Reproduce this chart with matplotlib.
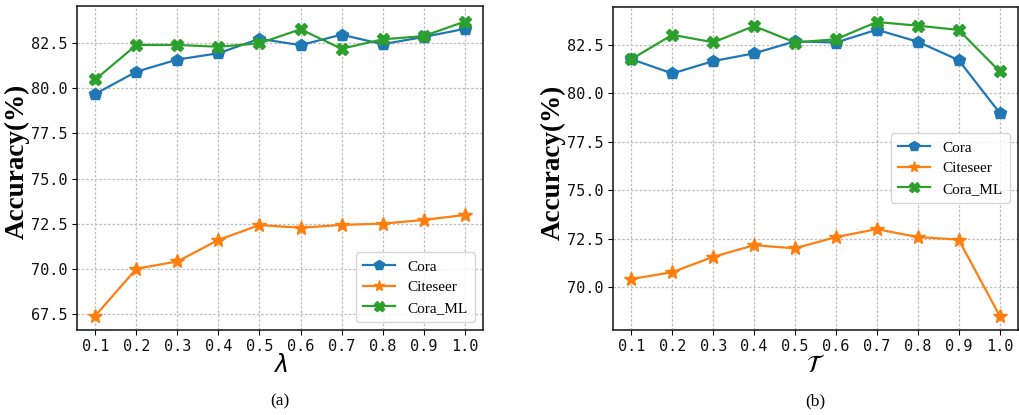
import matplotlib
matplotlib.use('Agg')
import matplotlib.pyplot as plt

# x values shared by both panels
ticks = ['0.1', '0.2', '0.3', '0.4', '0.5', '0.6', '0.7', '0.8', '0.9', '1.0']
xs = [0.1, 0.2, 0.3, 0.4, 0.5, 0.6, 0.7, 0.8, 0.9, 1.0]

# panel (a): lambda
cora_a = [79.7, 80.93, 81.6, 81.95, 82.75, 82.4, 82.98, 82.45, 82.85, 83.3]
citeseer_a = [67.4, 70.0, 70.4, 71.6, 72.42, 72.27, 72.43, 72.5, 72.7, 72.98]
coraml_a = [80.5, 82.41, 82.41, 82.31, 82.5, 83.28, 82.2, 82.72, 82.9, 83.7]

# panel (b): tau
cora_b = [81.77, 81.03, 81.67, 82.07, 82.69, 82.63, 83.29, 82.67, 81.72, 79.0]
citeseer_b = [70.41, 70.77, 71.56, 72.16, 72.0, 72.58, 72.99, 72.58, 72.45, 68.52]
coraml_b = [81.77, 83.03, 82.64, 83.48, 82.63, 82.8, 83.69, 83.5, 83.28, 81.14]

blue = '#1f77b4'
orange = '#ff7f0e'
green = '#2ca02c'

tick_font = {'family': 'DejaVu Sans Mono', 'size': 11, 'color': '#111111'}
serif = ['Liberation Serif', 'DejaVu Serif']


def draw(ax, cora, citeseer, coraml, xlabel, ylim, legend_loc, caption):
    ax.plot(xs, cora, color=blue, marker='p', markersize=9, linewidth=1.6, label='Cora')
    ax.plot(xs, citeseer, color=orange, marker='*', markersize=10, linewidth=1.6, label='Citeseer')
    ax.plot(xs, coraml, color=green, marker='X', markersize=9, linewidth=1.6, label='Cora_ML')
    ax.set_ylim(*ylim)
    ax.set_xticks(xs)
    ax.set_xticklabels(ticks, fontdict=tick_font)
    yt = [t for t in [67.5, 70.0, 72.5, 75.0, 77.5, 80.0, 82.5] if ylim[0] <= t <= ylim[1]]
    ax.set_yticks(yt)
    ax.set_yticklabels(['{:.1f}'.format(t) for t in yt], fontdict=tick_font)
    ax.tick_params(pad=3)
    ax.grid(True, linestyle=(0, (2, 1.5)), color='#bdbdbd', linewidth=0.9)
    ax.set_axisbelow(True)
    for s in ax.spines.values():
        s.set_color('#222222')
        s.set_linewidth(1.2)
    ax.set_xlabel(xlabel, fontsize=17, labelpad=-1)
    ax.set_ylabel('Accuracy(%)', fontsize=19.5, fontweight='bold', family=serif, labelpad=1)
    ax.yaxis.label.set_y(0.52)
    ax.legend(loc=legend_loc, prop={'family': serif, 'size': 11}, handlelength=2.1,
              markerscale=0.8, fancybox=True, framealpha=0.8, borderpad=0.5,
              labelspacing=0.45, handletextpad=0.8)
    ax.text(0.5, -0.22, caption, transform=ax.transAxes, ha='center', va='center',
            fontsize=12.5, family=serif)


fig = plt.figure(figsize=(10.19, 4.15), dpi=100)
ax1 = fig.add_axes([77 / 1019, 1 - 330 / 415, 406 / 1019, 324 / 415])
ax2 = fig.add_axes([613 / 1019, 1 - 330 / 415, 405 / 1019, 323.3 / 415])

draw(ax1, cora_a, citeseer_a, coraml_a, r'$\lambda$', (66.6, 84.57), 'lower right', '(a)')
draw(ax2, cora_b, citeseer_b, coraml_b, r'$\mathcal{T}$', (67.78, 84.48), 'center right', '(b)')

fig.savefig('out.png', dpi=100)
